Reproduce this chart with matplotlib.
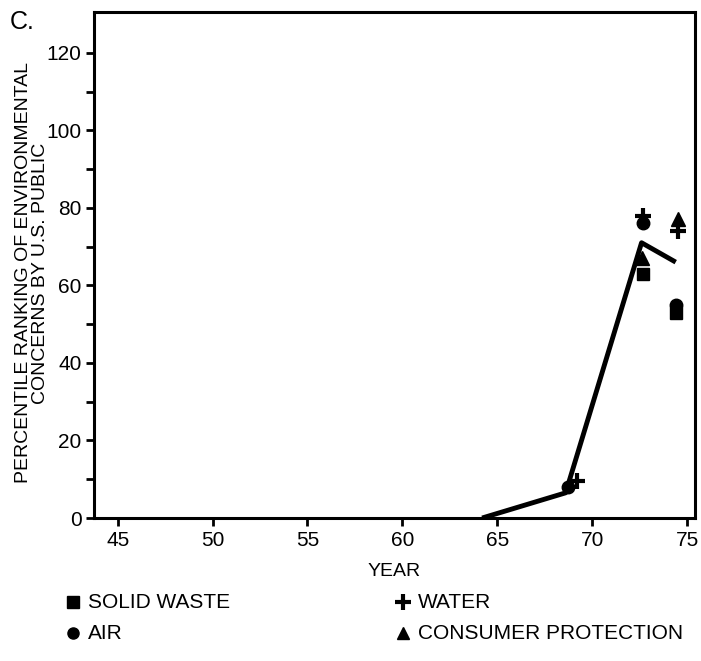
import matplotlib
matplotlib.use("Agg")
import matplotlib.pyplot as plt
from matplotlib.lines import Line2D

plt.rcParams['font.family'] = ['Liberation Sans', 'DejaVu Sans']

# Trend line
line_years = [64.2, 68.6, 72.6, 74.4]
line_vals = [0, 6.5, 71, 66]

# Survey points
solid_years = [72.7, 74.4]
solid_vals = [63, 53]
air_years = [68.7, 72.7, 74.4]
air_vals = [8, 76, 55]
water_years = [69.2, 72.7, 74.5]
water_vals = [9.5, 78, 74]
consumer_years = [72.6, 74.5]
consumer_vals = [67, 77]

xticks = [45, 50, 55, 60, 65, 70, 75]
yticks = [0, 20, 40, 60, 80, 100, 120]

fig = plt.figure(figsize=(7.01, 6.61), dpi=100)
ax = fig.add_axes([0.134, 0.2163, 0.857, 0.7655])

ax.plot(line_years, line_vals, color='black', lw=3.5, solid_capstyle='butt', zorder=2)
ax.plot(solid_years, solid_vals, 's', color='black', ms=9, ls='none', zorder=3)
ax.plot(air_years, air_vals, 'o', color='black', ms=9, ls='none', zorder=3)
ax.plot(water_years, water_vals, '+', color='black', ms=12, mew=3, ls='none', zorder=3)
ax.plot(consumer_years, consumer_vals, '^', color='black', ms=10, ls='none', zorder=3)

ax.set_xlim(43.75, 75.4)
ax.set_ylim(0, 130.5)
ax.set_xticks(xticks)
ax.set_yticks(yticks)
ax.set_yticks([10, 30, 50, 70, 90, 110], minor=True)
ax.tick_params(axis='both', which='both', direction='out', width=2, labelsize=15, color='black')
ax.tick_params(axis='both', which='major', length=6, pad=3)
ax.tick_params(axis='y', which='minor', length=6)
for s in ax.spines.values():
    s.set_linewidth(2.2)

ax.set_xlabel('YEAR', fontsize=14, labelpad=10)

fig.text(0.045, 0.587, 'PERCENTILE RANKING OF ENVIRONMENTAL\nCONCERNS BY U.S. PUBLIC',
         rotation=90, ha='center', va='center', fontsize=14, linespacing=1.0)
fig.text(0.014, 0.985, 'C.', fontsize=18, ha='left', va='top')

# Legend drawn manually in figure coordinates
legend_labels = ['SOLID WASTE', 'AIR', 'WATER', 'CONSUMER PROTECTION']
legend_markers = [('s', 8, None), ('o', 8, None), ('+', 11, 3), ('^', 9, None)]
legend_pos = [(0.104, 0.089), (0.104, 0.042), (0.575, 0.089), (0.575, 0.042)]
for lab, (mk, ms, mew), (lx, ly) in zip(legend_labels, legend_markers, legend_pos):
    kw = dict(marker=mk, color='black', ls='none', ms=ms, transform=fig.transFigure)
    if mew:
        kw['mew'] = mew
    fig.add_artist(Line2D([lx], [ly], **kw))
    fig.text(lx + 0.021, ly, lab, fontsize=15, ha='left', va='center')

fig.savefig('out.png', dpi=100)
